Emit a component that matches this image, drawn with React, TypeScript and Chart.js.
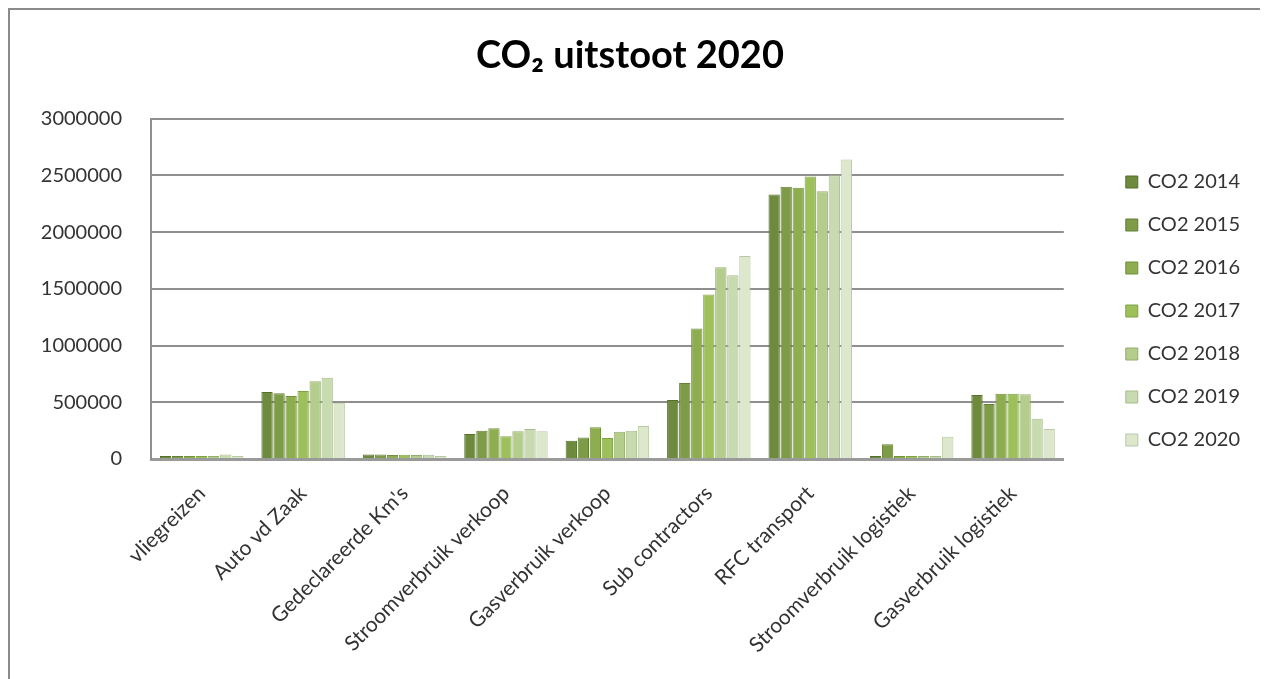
import React, { useEffect, useRef } from "react";
import { Chart, registerables } from "chart.js";

Chart.register(...registerables);

const categories = [
  "vliegreizen",
  "Auto vd Zaak",
  "Gedeclareerde Km's",
  "Stroomverbruik verkoop",
  "Gasverbruik verkoop",
  "Sub contractors",
  "RFC transport",
  "Stroomverbruik logistiek",
  "Gasverbruik logistiek",
];

const seriesNames = ["CO2 2014", "CO2 2015", "CO2 2016", "CO2 2017", "CO2 2018", "CO2 2019", "CO2 2020"];

const co2_2014 = [5000, 590000, 40000, 220000, 160000, 520000, 2330000, 25000, 565000];
const co2_2015 = [5000, 580000, 40000, 250000, 190000, 670000, 2400000, 130000, 485000];
const co2_2016 = [5000, 555000, 35000, 270000, 280000, 1150000, 2390000, 5000, 575000];
const co2_2017 = [5000, 600000, 38000, 200000, 185000, 1450000, 2490000, 5000, 575000];
const co2_2018 = [5000, 685000, 35000, 245000, 240000, 1690000, 2360000, 5000, 570000];
const co2_2019 = [40000, 715000, 38000, 265000, 250000, 1620000, 2500000, 5000, 355000];
const co2_2020 = [10000, 495000, 20000, 245000, 290000, 1790000, 2640000, 195000, 265000];

const seriesValues = [co2_2014, co2_2015, co2_2016, co2_2017, co2_2018, co2_2019, co2_2020];

const fillColors = ["#6E8A3D", "#7E9B48", "#8EAD4F", "#9DC05A", "#B4CC8C", "#C8DAAF", "#DCE7CC"];
const edgeColors = ["#55702c", "#647f36", "#72913c", "#80a246", "#94ad6c", "#a8bb8c", "#b8c8a4"];

const yTicks = [0, 500000, 1000000, 1500000, 2000000, 2500000, 3000000];

const FONT = "Lato, 'Open Sans', sans-serif";

export default function App() {
  const canvasRef = useRef<HTMLCanvasElement | null>(null);

  useEffect(() => {
    document.documentElement.style.overflow = "hidden";
    document.body.style.overflow = "hidden";
    const canvas = canvasRef.current;
    if (!canvas) return;
    const chart = new Chart(canvas, {
      type: "bar",
      data: {
        labels: categories,
        datasets: seriesNames.map((name, i) => ({
          label: name,
          data: seriesValues[i],
          backgroundColor: fillColors[i],
          borderColor: edgeColors[i],
          borderWidth: 1,
          minBarLength: 3,
          categoryPercentage: 0.83,
          barPercentage: 0.94,
        })),
      },
      options: {
        responsive: false,
        animation: false,
        layout: { padding: { top: -67, left: 0, right: 14, bottom: 0 } },
        plugins: {
          title: {
            display: true,
            text: "CO₂ uitstoot 2020",
            color: "#000",
            font: { family: FONT, size: 38, weight: "bold" },
            padding: { top: 90, bottom: 40 },
          },
          legend: {
            position: "right",
            labels: {
              boxWidth: 12,
              boxHeight: 12,
              padding: 23,
              color: "#333",
              font: { family: FONT, size: 20 },
            },
          },
          tooltip: { enabled: false },
        },
        scales: {
          x: {
            grid: { display: false },
            border: { display: true, color: "#9a9a9a", width: 3 },
            ticks: {
              autoSkip: false,
              maxRotation: 45,
              minRotation: 45,
              color: "#333",
              font: { family: FONT, size: 21 },
              padding: 14,
            },
            afterFit: (s: any) => {
              s.height = 220;
            },
          },
          y: {
            min: 0,
            max: 3000000,
            afterBuildTicks: (s: any) => {
              s.ticks = yTicks.map((v) => ({ value: v }));
            },
            grid: { color: "#8f8f8f", lineWidth: 2, drawTicks: false },
            border: { display: true, color: "#8f8f8f", width: 2 },
            ticks: {
              padding: 29,
              color: "#333",
              font: { family: FONT, size: 20 },
              callback: (v: any) => String(v),
            },
            afterFit: (s: any) => {
              s.width = 141;
            },
          },
          y2: {
            type: "linear",
            position: "right",
            display: true,
            grid: { display: false },
            border: { display: false },
            ticks: { display: false },
            afterFit: (s: any) => {
              s.width = 39;
            },
          },
        },
      },
    });
    return () => chart.destroy();
  }, []);

  return (
    <div
      style={{
        width: 1258,
        height: 720,
        boxSizing: "border-box",
        border: "2px solid #8a8a8a",
        background: "#fff",
      }}
    >
      <canvas ref={canvasRef} width={1254} height={669} style={{ display: "block", width: 1254, height: 669 }} />
    </div>
  );
}
